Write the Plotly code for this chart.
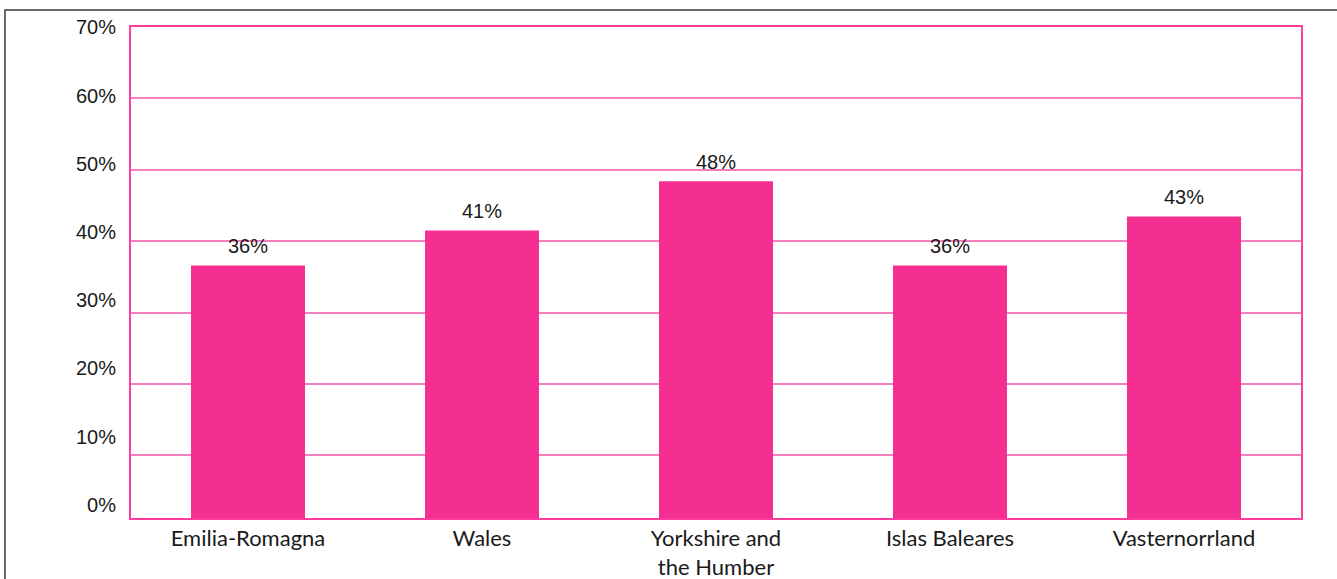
import plotly.graph_objects as go

regions = ["Emilia-Romagna", "Wales", "Yorkshire and<br>the Humber", "Islas Baleares", "Vasternorrland"]
shares = [0.36, 0.41, 0.48, 0.36, 0.43]
share_labels = ["36%", "41%", "48%", "36%", "43%"]

tick_vals = [0.0, 0.1, 0.2, 0.3, 0.4, 0.5, 0.6, 0.7]
tick_text = ["0%", "10%", "20%", "30%", "40%", "50%", "60%", "70%"]
grid_vals = [0.1, 0.2, 0.3, 0.4, 0.5, 0.6]

BAR_COLOR = "#f52e91"
FRAME_COLOR = "#ff3d9e"
GRID_COLOR = "#f87fbf"
TEXT_COLOR = "#1a1a1a"

fig = go.Figure()
fig.add_trace(go.Bar(
    x=regions,
    y=shares,
    marker=dict(color=BAR_COLOR, line=dict(width=0)),
    hovertemplate="%{x}: %{y:.0%}<extra></extra>",
))
# empty traces so the grid axis and the label axis get drawn
fig.add_trace(go.Scatter(x=[], y=[], yaxis="y2", showlegend=False, hoverinfo="skip"))
fig.add_trace(go.Scatter(x=[], y=[], yaxis="y3", showlegend=False, hoverinfo="skip"))

for reg, val, lab in zip(regions, shares, share_labels):
    fig.add_annotation(
        x=reg, y=val, text=lab, showarrow=False,
        yanchor="bottom", yshift=6,
        font=dict(family="Liberation Sans, Arial, sans-serif", size=20, color=TEXT_COLOR),
    )

fig.update_layout(
    width=1337,
    height=579,
    autosize=False,
    margin=dict(l=131, r=36, t=27, b=61),
    paper_bgcolor="white",
    plot_bgcolor="white",
    showlegend=False,
    bargap=0.513,
    xaxis=dict(
        showline=True, linecolor=FRAME_COLOR, linewidth=2, mirror=True,
        showgrid=False, zeroline=False, ticks="", automargin=False,
        tickfont=dict(family="Lato, sans-serif", size=22, color=TEXT_COLOR),
        ticklabelstandoff=0,
    ),
    yaxis=dict(
        range=[0, 0.7], automargin=False,
        showline=True, linecolor=FRAME_COLOR, linewidth=2, mirror=True,
        showgrid=False, zeroline=False, showticklabels=False, ticks="",
    ),
    yaxis2=dict(
        overlaying="y", range=[0.0123, 0.7], automargin=False,
        tickvals=grid_vals, showgrid=True, gridcolor=GRID_COLOR, gridwidth=1.5,
        showticklabels=False, showline=False, zeroline=False, ticks="",
    ),
    yaxis3=dict(
        overlaying="y", side="left", range=[-0.0193, 0.7005], automargin=False,
        tickvals=tick_vals, ticktext=tick_text,
        showgrid=False, showline=False, zeroline=False, ticks="",
        tickfont=dict(family="Liberation Sans, Arial, sans-serif", size=20, color=TEXT_COLOR),
        ticklabelstandoff=14,
    ),
)

# outer frame of the whole figure (right and bottom edges fall outside the page)
fig.add_shape(
    type="rect", xref="paper", yref="paper",
    x0=-0.1077, x1=1.3, y0=-0.3, y1=1.0346,
    line=dict(color="#3a3a3a", width=1.5),
)

fig.write_html("out.html", config={"displayModeBar": False},
               post_script="document.body.style.margin='0';")
